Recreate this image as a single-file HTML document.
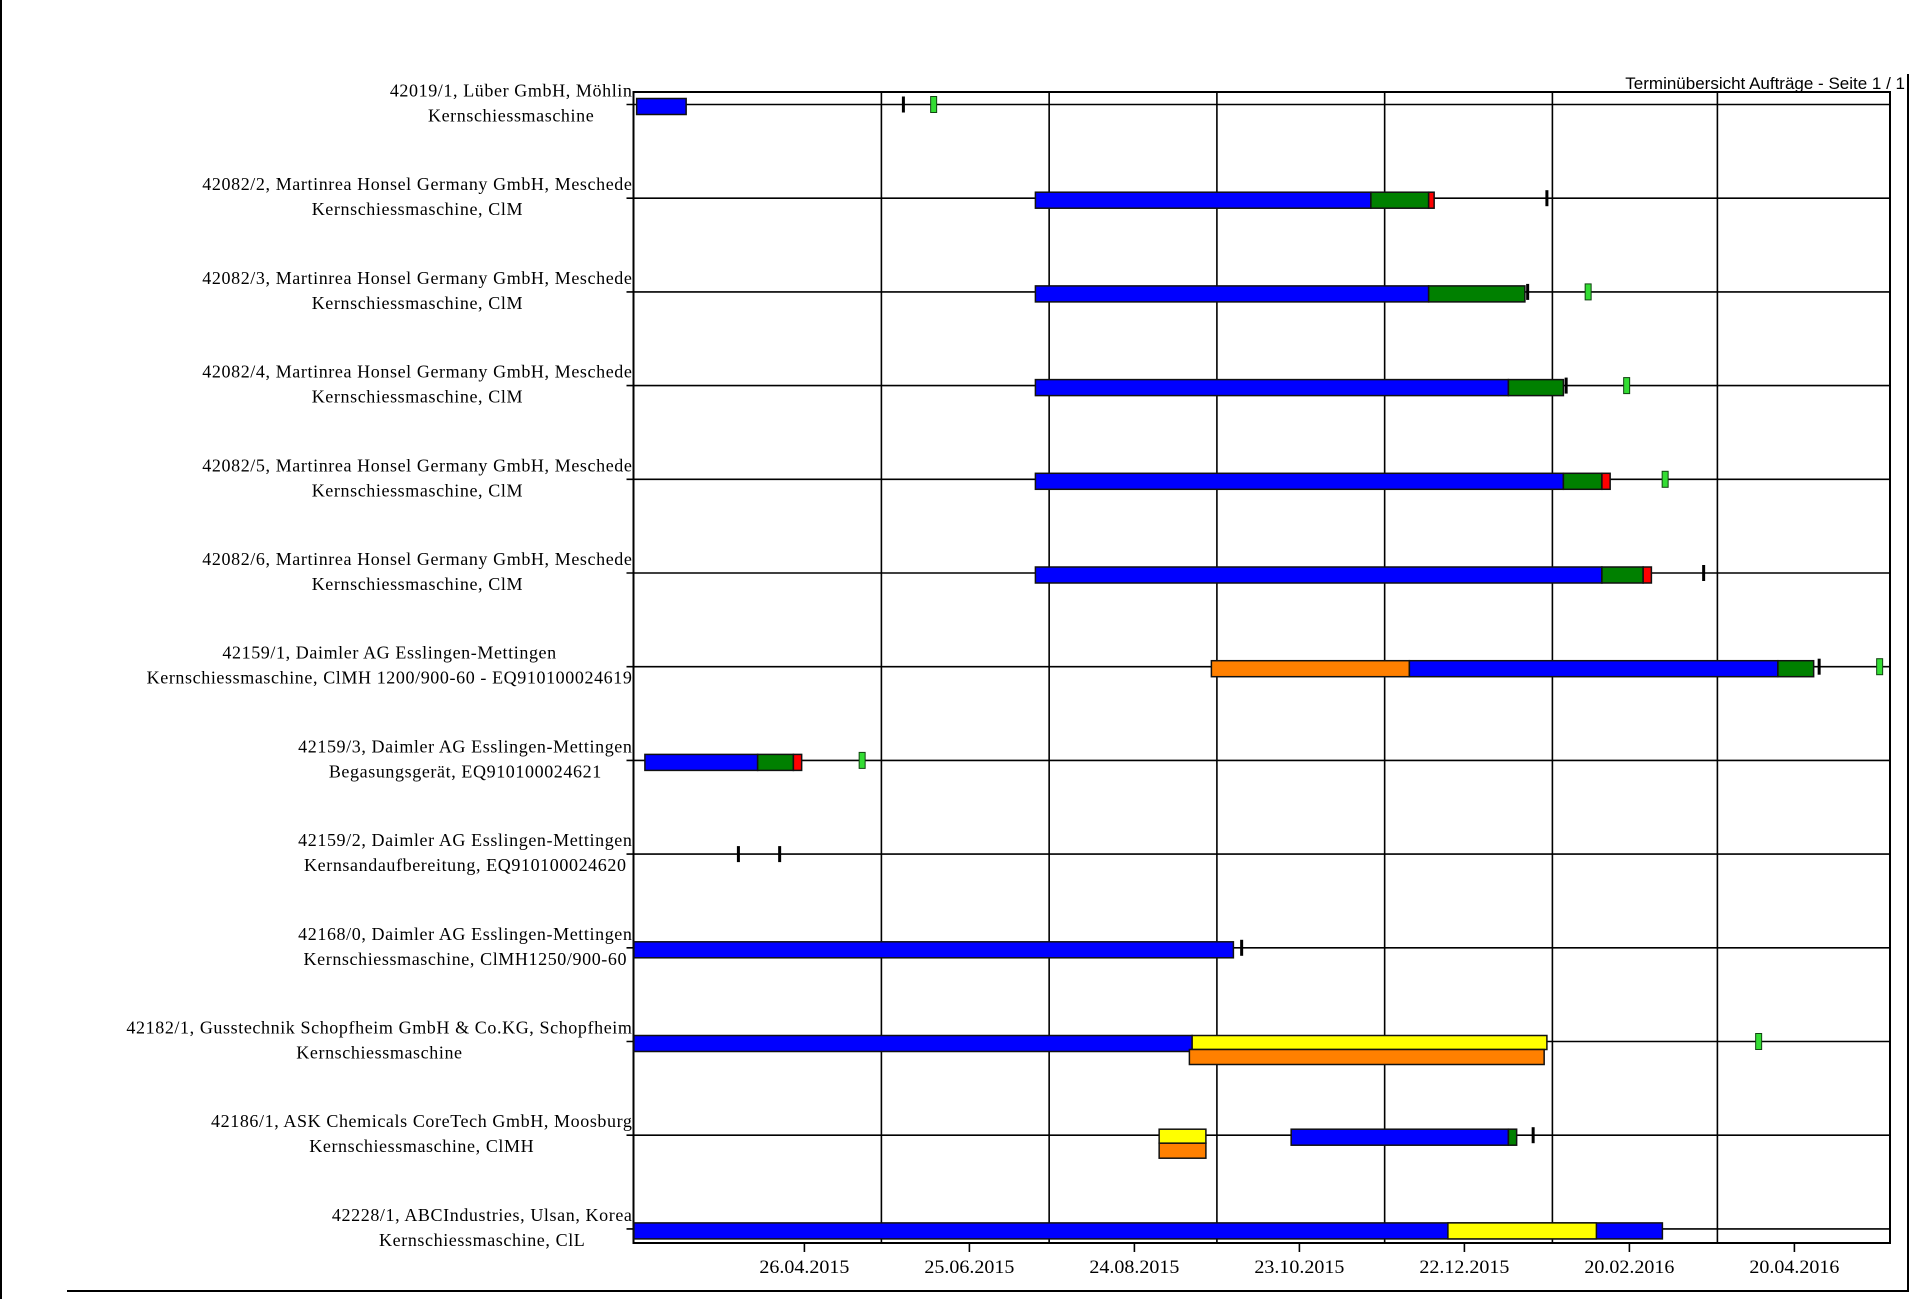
<!DOCTYPE html>
<html><head><meta charset="utf-8"><style>
html,body{margin:0;padding:0;background:#fff;}
body{width:1914px;height:1299px;overflow:hidden;position:relative;}
svg{position:absolute;left:0;top:0;}
</style></head><body>
<svg id="c" width="1914" height="1299" xmlns="http://www.w3.org/2000/svg">
<rect x="0" y="0" width="1914" height="1299" fill="#fff"/>
<line x1="1" y1="0" x2="1" y2="1299" stroke="#000" stroke-width="2"/>
<line x1="67" y1="1291" x2="1909" y2="1291" stroke="#000" stroke-width="2"/>
<line x1="1908" y1="74" x2="1908" y2="1291" stroke="#000" stroke-width="2"/>
<text x="1905" y="89" text-anchor="end" font-family="Liberation Sans, sans-serif" font-size="17">Terminübersicht Aufträge - Seite 1 / 1</text>
<g id="g"></g>
</svg>
<script>
// days relative to 26.04.2015
const tickLabels=["26.04.2015","25.06.2015","24.08.2015","23.10.2015","22.12.2015","20.02.2016","20.04.2016"];
const tickDays=[0,60,120,180,240,300,360];
const gridDays=[28,89,150,211,272,332];
const rowLabels1=["42019/1, Lüber GmbH, Möhlin","42082/2, Martinrea Honsel Germany GmbH, Meschede","42082/3, Martinrea Honsel Germany GmbH, Meschede","42082/4, Martinrea Honsel Germany GmbH, Meschede","42082/5, Martinrea Honsel Germany GmbH, Meschede","42082/6, Martinrea Honsel Germany GmbH, Meschede","42159/1, Daimler AG Esslingen-Mettingen","42159/3, Daimler AG Esslingen-Mettingen","42159/2, Daimler AG Esslingen-Mettingen","42168/0, Daimler AG Esslingen-Mettingen","42182/1, Gusstechnik Schopfheim GmbH & Co.KG, Schopfheim","42186/1, ASK Chemicals CoreTech GmbH, Moosburg","42228/1, ABCIndustries, Ulsan, Korea"];
const rowLabels2=["Kernschiessmaschine","Kernschiessmaschine, ClM","Kernschiessmaschine, ClM","Kernschiessmaschine, ClM","Kernschiessmaschine, ClM","Kernschiessmaschine, ClM","Kernschiessmaschine, ClMH 1200/900-60 - EQ910100024619","Begasungsgerät, EQ910100024621","Kernsandaufbereitung, EQ910100024620","Kernschiessmaschine, ClMH1250/900-60","Kernschiessmaschine","Kernschiessmaschine, ClMH","Kernschiessmaschine, ClL"];
// segments
const segRow=[0,1,1,1,2,2,3,3,4,4,4,5,5,5,6,6,6,7,7,7,9,10,10,10,11,11,11,11,12,12];
const segStart=[-61,84,206,227,84,227,84,256,84,276,290,84,290,305,148,220,354,-58,-17,-4,-62,-62,141,140,129,129,177,256,-62,234];
const segEnd=[-43,206,227,229,227,262,256,276,276,290,293,290,305,308,220,354,367,-17,-4,-1,156,141,270,269,146,146,256,259,312,288];
const segColor=["b","b","g","r","b","g","b","g","b","g","r","b","g","r","o","b","g","b","g","r","b","b","y","o","y","o","b","g","b","y"];
const segLane=[0,0,0,0,0,0,0,0,0,0,0,0,0,0,0,0,0,0,0,0,0,0,1,2,1,2,0,0,0,0];
// milestones
const msRow=[0,0,1,2,2,3,3,4,5,6,6,7,8,8,9,10,11];
const msDay=[36,47,270,263,285,277,299,313,327,369,391,21,-24,-9,159,347,265];
const msType=["t","m","t","t","m","t","m","m","t","t","m","m","t","t","t","m","t"];

const NS="http://www.w3.org/2000/svg";
const g=document.getElementById('g');
const X0=804.4,PX=2.75,L=633.5,R=1890,TOP=92,AX=1243,ROW0=104.5,RS=93.7;
const x=d=>X0+d*PX;
const ry=i=>ROW0+i*RS;
const col={b:"#0000ff",g:"#008000",r:"#ff0000",o:"#ff8000",y:"#ffff00"};
function el(t,a,p){const e=document.createElementNS(NS,t);for(const k in a)e.setAttribute(k,a[k]);(p||g).appendChild(e);return e;}
let e=el('rect',{x:L,y:TOP,width:R-L,height:AX-TOP,fill:'none',stroke:'#000','stroke-width':2});


gridDays.forEach(d=>{const l=el('line',{x1:x(d),y1:TOP,x2:x(d),y2:AX,stroke:'#000','stroke-width':1.6});

});
tickDays.forEach((d,i)=>{
 const l=el('line',{x1:x(d),y1:AX,x2:x(d),y2:AX+9,stroke:'#000','stroke-width':1.6});
 
 
 const t=el('text',{x:x(d),y:AX+30,'text-anchor':'middle','font-family':'Liberation Serif, serif','font-size':19,textLength:90,lengthAdjust:'spacingAndGlyphs'});
 t.textContent=tickLabels[i];
 
 
});
rowLabels1.forEach((s,i)=>{
 const y=ry(i);
 const l=el('line',{x1:L-7,y1:y,x2:R,y2:y,stroke:'#000','stroke-width':1.6});
 
 
 const t1=el('text',{x:0,y:y-8,'text-anchor':'middle','font-family':'Liberation Serif, serif','font-size':18,'letter-spacing':'0.6'});
 t1.textContent=s;
 
 
 const t2=el('text',{x:0,y:y+17,'text-anchor':'middle','font-family':'Liberation Serif, serif','font-size':18,'letter-spacing':'0.6'});
 t2.textContent=rowLabels2[i];
 
 
 const w=Math.max(t1.getComputedTextLength(),t2.getComputedTextLength());
 const cx=L-1-w/2;
 t1.setAttribute('x',cx);t2.setAttribute('x',cx);
});
segRow.forEach((r,i)=>{
 const y=ry(r);let top=y-6,h=16;
 if(segLane[i]===1){top=y-6;h=14;}
 if(segLane[i]===2){top=y+8;h=15;}
 const s=Math.max(segStart[i],(L-X0)/PX);
 const b=el('rect',{x:x(s),y:top,width:Math.max(1,x(segEnd[i])-x(s)),height:h,fill:col[segColor[i]],stroke:'#111','stroke-width':1.5});
 
 
});
msRow.forEach((r,i)=>{
 const y=ry(r);let m;
 if(msType[i]==='t'){m=el('rect',{x:x(msDay[i])-1.5,y:y-8,width:3,height:16,fill:'#000'});
  }
 else{m=el('rect',{x:x(msDay[i])-3,y:y-8,width:6,height:16,fill:'#33dd33',stroke:'#114411','stroke-width':1});
  }
 
});
</script>
</body></html>
